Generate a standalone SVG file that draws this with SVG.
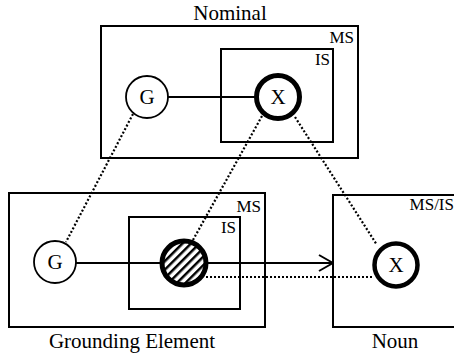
<svg xmlns="http://www.w3.org/2000/svg" width="454" height="357" viewBox="0 0 454 357">
<style>
.box{fill:none;stroke:#000;stroke-width:2}
text{font-family:"Liberation Serif","Times New Roman",Times,serif;fill:#000}
.big{font-size:21px}
.sm{font-size:17px}
.node{fill:#fff;stroke:#000}
.solid{stroke:#000;stroke-width:2;fill:none}
.dot{stroke:#000;stroke-width:2.2;stroke-dasharray:2 2;fill:none}
</style>
<defs>
<pattern id="hatch" width="6" height="6" patternUnits="userSpaceOnUse" patternTransform="rotate(45)">
<rect width="6" height="6" fill="#fff"/>
<rect width="2.5" height="6" fill="#000"/>
</pattern>
<marker id="arrow" viewBox="0 0 16 18" refX="15" refY="9" markerWidth="16" markerHeight="18" markerUnits="userSpaceOnUse" orient="auto">
<path d="M1,1 L15,9 L1,17" fill="none" stroke="#000" stroke-width="2"/>
</marker>
</defs>
<g id="nominal">
<rect class="box" x="101" y="26" width="257" height="132"/>
<text class="big" x="230" y="20" text-anchor="middle">Nominal</text>
<text class="sm" x="354" y="43" text-anchor="end">MS</text>
</g>
<g id="nominal-is">
<rect class="box" x="221" y="49" width="112" height="93"/>
<text class="sm" x="330" y="65" text-anchor="end">IS</text>
</g>
<g id="grounding">
<rect class="box" x="9" y="193" width="256" height="134"/>
<text class="big" x="132" y="348" text-anchor="middle">Grounding Element</text>
<text class="sm" x="261" y="212" text-anchor="end">MS</text>
</g>
<g id="grounding-is">
<rect class="box" x="129" y="217" width="111" height="92"/>
<text class="sm" x="236" y="233" text-anchor="end">IS</text>
</g>
<g id="noun">
<rect class="box" x="333" y="195" width="130" height="132"/>
<text class="big" x="395" y="348" text-anchor="middle">Noun</text>
<text class="sm" x="454" y="210" text-anchor="end">MS/IS</text>
</g>
<g id="connectors">
<line class="solid" x1="168" y1="97" x2="256" y2="97"/>
<line class="solid" x1="76" y1="263" x2="162" y2="263"/>
<line class="solid" x1="206" y1="263" x2="333" y2="263" marker-end="url(#arrow)"/>
<line class="dot" x1="206" y1="277" x2="374" y2="277"/>
<line class="dot" x1="133" y1="114" x2="66" y2="242"/>
<line class="dot" x1="262" y1="116" x2="193" y2="240"/>
<line class="dot" x1="295" y1="117" x2="377" y2="245"/>
</g>
<g id="nominal-G">
<circle class="node" cx="147" cy="97" r="21" stroke-width="1.8"/>
<text class="big" x="147" y="104" text-anchor="middle">G</text>
</g>
<g id="nominal-X">
<circle class="node" cx="278" cy="97" r="21.5" stroke-width="5"/>
<text class="big" x="278" y="104" text-anchor="middle">X</text>
</g>
<g id="grounding-G">
<circle class="node" cx="55" cy="262" r="21" stroke-width="1.8"/>
<text class="big" x="55" y="269" text-anchor="middle">G</text>
</g>
<g id="grounding-hatched">
<circle cx="184" cy="263" r="22" fill="url(#hatch)" stroke="#000" stroke-width="5"/>
</g>
<g id="noun-X">
<circle class="node" cx="396" cy="265" r="21.5" stroke-width="4.5"/>
<text class="big" x="396" y="272" text-anchor="middle">X</text>
</g>
</svg>
